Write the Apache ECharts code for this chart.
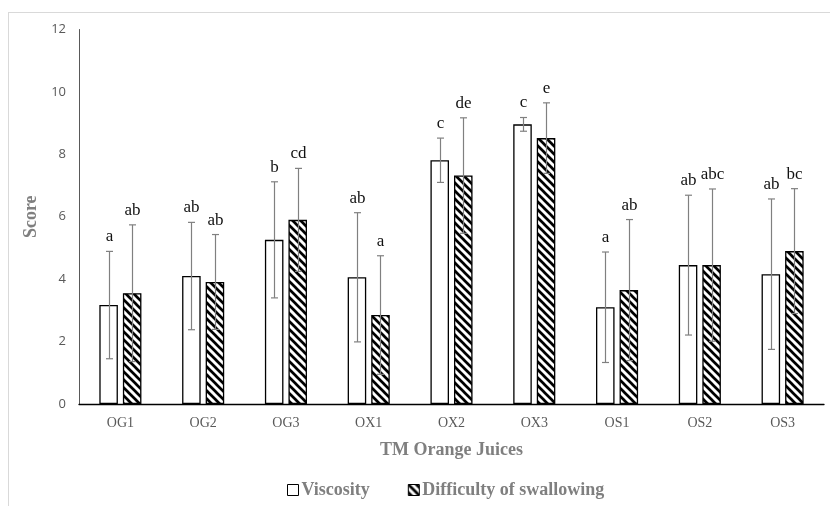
<!DOCTYPE html>
<html><head><meta charset="utf-8">
<script src="https://cdn.jsdelivr.net/npm/echarts@6/dist/echarts.min.js"></script>
<style>html,body{margin:0;padding:0;background:#fff}#c{width:830px;height:506px}</style>
</head><body><div id="c"></div>
<script>
const categories = ['OG1','OG2','OG3','OX1','OX2','OX3','OS1','OS2','OS3'];
const viscosity = [3.17,4.10,5.26,4.06,7.81,8.96,3.10,4.45,4.16];
const viscositySD = [1.72,1.72,1.86,2.07,0.71,0.22,1.77,2.24,2.41];
const swallowing = [3.55,3.91,5.90,2.85,7.32,8.52,3.65,4.45,4.90];
const swallowingSD = [2.19,1.52,1.65,1.90,1.85,1.13,2.26,2.44,2.00];
const viscosityLetters = ['a','ab','b','ab','c','c','a','ab','ab'];
const swallowingLetters = ['ab','ab','cd','a','de','e','ab','abc','bc'];
const yMin = 0, yMax = 12, yStep = 2;

const BW = 0.224, GAP = 0.27;
function hatch(){
  const s = 8; const c = document.createElement('canvas'); c.width = s; c.height = s;
  const g = c.getContext('2d'); g.fillStyle = '#fff'; g.fillRect(0,0,s,s);
  g.strokeStyle = '#000'; g.lineWidth = 2.7;
  g.beginPath();
  g.moveTo(-2,-2); g.lineTo(s+2,s+2);
  g.moveTo(-2,s-2); g.lineTo(2,s+2);
  g.moveTo(s-2,-2); g.lineTo(s+2,2);
  g.stroke();
  return c;
}
const pattern = {image: hatch(), repeat: 'repeat'};

function errSeries(name, means, sds, letters, side){
  return {
    type: 'custom', name: name + ' err', z: 5, silent: true,
    data: means.map((m,i)=>[i, m, sds[i]]),
    renderItem: function(params, api){
      const i = api.value(0), m = api.value(1), sd = api.value(2);
      const band = api.size([1,0])[0];
      const bw = band*BW, gap = bw*GAP;
      const c = api.coord([i, m]);
      const x = Math.round(c[0] + side*(bw+gap)/2) + 0.5;
      const top = api.coord([i, m+sd])[1];
      const bot = api.coord([i, m-sd])[1];
      const st = {stroke: '#808080', lineWidth: 1.2};
      const cw = 3.5;
      return {type: 'group', children: [
        {type:'line', shape:{x1:x,y1:top,x2:x,y2:bot}, style:st},
        {type:'line', shape:{x1:x-cw,y1:top,x2:x+cw,y2:top}, style:st},
        {type:'line', shape:{x1:x-cw,y1:bot,x2:x+cw,y2:bot}, style:st},
        {type:'text', x:x, y:top-6, style:{text: letters[params.dataIndex], fill:'#111',
          font:'17px "Liberation Serif", "DejaVu Serif", serif', align:'center', verticalAlign:'bottom'}}
      ]};
    }
  };
}

const chart = echarts.init(document.getElementById('c'));
chart.setOption({
  animation: false,
  backgroundColor: '#fff',
  graphic: [
    {type:'line', shape:{x1:8, y1:12.5, x2:830, y2:12.5}, style:{stroke:'#d9d9d9', lineWidth:1}},
    {type:'line', shape:{x1:8.5, y1:12, x2:8.5, y2:506}, style:{stroke:'#d9d9d9', lineWidth:1}}
  ],
  grid: {left: 79, right: 6, top: 29.5, bottom: 102},
  legend: {
    top: 476, left: 282, itemWidth: 11, itemHeight: 11, itemGap: 38,
    textStyle: {fontFamily:'"Liberation Serif", serif', fontWeight:'bold', fontSize:18, color:'#7f7f7f', padding:[0,0,0,-2]},
    data: [
      {name:'Viscosity', icon:'rect', itemStyle:{color:'#fff', borderColor:'#000', borderWidth:1}},
      {name:'Difficulty of swallowing', icon:'rect', itemStyle:{color:pattern, borderColor:'#000', borderWidth:1}}
    ]
  },
  xAxis: {
    type: 'category', data: categories,
    name: 'TM Orange Juices', nameLocation: 'middle', nameGap: 37,
    nameTextStyle: {fontFamily:'"Liberation Serif", serif', fontWeight:'bold', fontSize:18, color:'#7f7f7f'},
    axisLine: {lineStyle:{color:'#000', width:1.3}},
    axisTick: {show:false},
    axisLabel: {margin: 12, fontFamily:'"Liberation Serif", serif', fontSize:14, color:'#595959'}
  },
  yAxis: {
    type: 'value', min: yMin, max: yMax, interval: yStep,
    name: 'Score', nameLocation: 'middle', nameGap: 31,
    nameTextStyle: {fontFamily:'"Liberation Serif", serif', fontWeight:'bold', fontSize:18, color:'#7f7f7f'},
    axisLine: {show:true, lineStyle:{color:'#595959', width:1}},
    axisTick: {show:false},
    splitLine: {show:false},
    axisLabel: {margin: 13, fontFamily:'"Open Sans", "Liberation Sans", sans-serif', fontSize:13, color:'#595959'}
  },
  series: [
    {type:'bar', name:'Viscosity', data: viscosity, barWidth: (BW*100)+'%', barGap: (GAP*100)+'%',
      itemStyle:{color:'#fff', borderColor:'#000', borderWidth:1.3}},
    {type:'bar', name:'Difficulty of swallowing', data: swallowing, barWidth: (BW*100)+'%', barGap: (GAP*100)+'%',
      itemStyle:{color:pattern, borderColor:'#000', borderWidth:1.3}},
    errSeries('Viscosity', viscosity, viscositySD, viscosityLetters, -1),
    errSeries('Difficulty of swallowing', swallowing, swallowingSD, swallowingLetters, 1)
  ]
});
</script></body></html>
